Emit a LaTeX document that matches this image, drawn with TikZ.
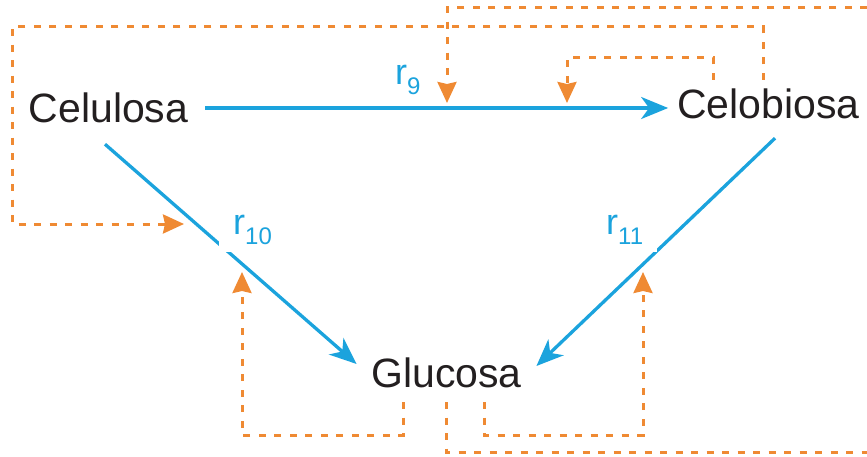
\documentclass[tikz,border=0pt]{standalone}
\usepackage{fontspec}
\setmainfont{Liberation Sans}
\usetikzlibrary{arrows.meta, positioning}
\definecolor{fluxBlue}{HTML}{1BA3DD}
\definecolor{ctrlOrange}{HTML}{EF8A33}
\definecolor{ink}{HTML}{231F20}
\newcommand{\rxn}[1]{{\fontsize{36}{36}\selectfont r}\raisebox{-10pt}{\fontsize{24}{24}\selectfont #1}}

\begin{document}
\begin{tikzpicture}[
  x=1pt, y=-1pt,
  species/.style={font=\fontsize{41}{41}\selectfont, text=ink, text height=30pt, text depth=6pt, inner xsep=8pt, inner ysep=9pt, anchor=base},
  rate/.style={text=fluxBlue, fill=white, inner xsep=14pt, inner ysep=8pt, anchor=base west},
  flux/.style={draw=fluxBlue, line width=3.3pt, -{Stealth[length=27pt, width=22pt, inset=8pt]}},
  ctrl/.style={draw=ctrlOrange, line width=3pt, dash pattern=on 7pt off 8.5pt, -{Stealth[length=21pt, width=19pt, inset=2pt]}}
]
\useasboundingbox (0,0) rectangle (867,457);
\node[species] (cel) at (108.5,123) {Celulosa};
\node[species] (celb) at (768.5,119) {Celobiosa};
\node[species] (glu) at (446.5,387) {Glucosa};
% arrow tips of the regulation lines
\coordinate (t9a) at (447,103);
\coordinate (t9b) at (567,103);
\coordinate (t10a) at (184,224);
\coordinate (t10b) at (242,272);
\coordinate (t11) at (643,272);
% reactions
\draw[flux] ([xshift=9pt,yshift=3pt]cel.east) -- ([xshift=-1pt,yshift=-1pt]celb.west);
\draw[flux] ([xshift=-3.5pt,yshift=-6pt]cel.south) -- ([xshift=-6.5pt,yshift=11pt]glu.west);
\draw[flux] ([xshift=6.5pt,yshift=-4pt]celb.south) -- ([xshift=6.5pt,yshift=9pt]glu.east);
\node[rate] (r9) at (381,85) {\rxn{9}};
\node[rate] (r10) at (219,234) {\rxn{10}};
\node[rate] (r11) at (592,234) {\rxn{11}};
% regulation
\draw[ctrl] ([xshift=-5.5pt]celb.north) |- (12,27) |- (t10a);
\draw[ctrl] (glu.south) |- (875,452) -- (875,8) -| (t9a);
\draw[ctrl] ([xshift=-55.5pt]celb.north) -- ++(0,-22) -| (t9b);
\draw[ctrl] ([xshift=-43.5pt]glu.south) -- ++(0,33) -| (t10b);
\draw[ctrl] ([xshift=37.5pt]glu.south) -- ++(0,33) -| (t11);
\end{tikzpicture}
\end{document}
